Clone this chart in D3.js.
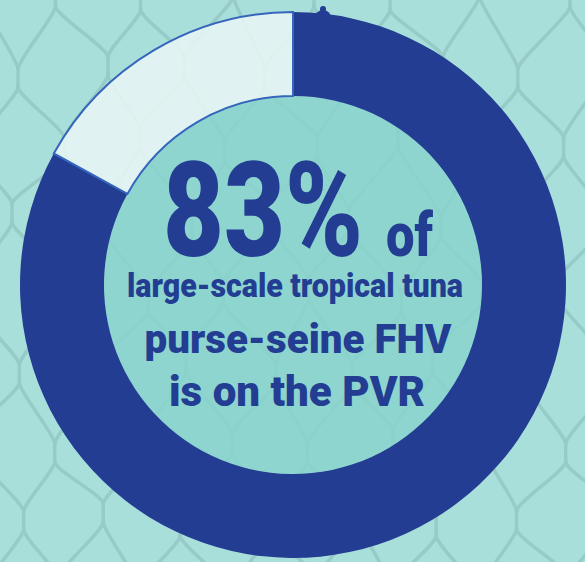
<!DOCTYPE html>
<html>
<head>
<meta charset="utf-8">
<script src="https://cdn.jsdelivr.net/npm/d3@7"></script>
<style>
  html, body { margin: 0; padding: 0; background: #a9dfdb; }
  svg { display: block; }
  text { font-family: Roboto, "Noto Sans", sans-serif; font-weight: 900; fill: #233d93; }
</style>
</head>
<body>
<div id="chart"></div>
<script>
// share of large-scale tropical tuna purse-seine FHV
var shareLabels = ["on the PVR", "not on the PVR"];
var shareValues = [83, 17];
var shareColors = ["#233d93", "#e7f6f5"];

var bigText = "83%";
var smallText = "of";
var lines = ["large-scale tropical tuna", "purse-seine FHV", "is on the PVR"];

var width = 585, height = 562;
var cx = 293, cy = 285, outerR = 273, innerR = 189;

var svg = d3.select("#chart").append("svg")
  .attr("width", width)
  .attr("height", height);

svg.append("rect")
  .attr("width", width).attr("height", height)
  .attr("fill", "#a9dfdb");

// net in the background
var net = svg.append("g")
  .attr("fill", "none")
  .attr("stroke", "#97cbc7")
  .attr("stroke-width", 3.5)
  .attr("stroke-linecap", "round");

var W = 84, H = 150, knot = 9, x0 = 18, y0 = 70;
var knots = [];
for (var j = -2; j <= 10; j++) {
  for (var i = -2; i <= 9; i++) {
    var kx = x0 + i * W + (j % 2 ? W / 2 : 0);
    var ky = y0 + j * H / 2;
    // a bit of wobble so it looks like a real net
    kx += Math.sin(i * 1.7 + j * 2.3) * 6;
    ky += Math.cos(i * 2.1 + j * 1.3) * 8;
    knots.push({i: i, j: j, x: kx, y: ky});
  }
}
function knotAt(i, j) {
  return knots.find(function(k) { return k.i == i && k.j == j; });
}
knots.forEach(function(k) {
  net.append("path").attr("d", "M" + k.x + "," + (k.y - knot) + "L" + k.x + "," + (k.y + knot));
  var nb = k.j % 2 ? [knotAt(k.i, k.j + 1), knotAt(k.i + 1, k.j + 1)]
                   : [knotAt(k.i - 1, k.j + 1), knotAt(k.i, k.j + 1)];
  nb.forEach(function(n) {
    if (!n) return;
    var p = d3.path();
    p.moveTo(k.x, k.y + knot);
    p.bezierCurveTo(k.x, k.y + 18, n.x, n.y - 18, n.x, n.y - knot);
    net.append("path").attr("d", p.toString());
  });
});

var g = svg.append("g").attr("transform", "translate(" + cx + "," + cy + ")");

// inner disc, slightly darker so the net stays faint behind it
g.append("circle")
  .attr("r", innerR)
  .attr("fill", "#88d3cc")
  .attr("fill-opacity", 0.82);

var pie = d3.pie().sort(null).value(function(d) { return d; });
var arc = d3.arc().innerRadius(innerR).outerRadius(outerR);
var arcs = pie(shareValues);

g.selectAll("path.slice")
  .data(arcs)
  .enter().append("path")
  .attr("class", "slice")
  .attr("d", arc)
  .attr("fill", function(d, i) { return shareColors[i]; })
  .attr("fill-opacity", function(d, i) { return i == 0 ? 1 : 0.88; })
  .attr("stroke", function(d, i) { return i == 0 ? "none" : "#3565bd"; })
  .attr("stroke-width", 2);

// small knob on top of the ring
g.append("circle").attr("cx", 30).attr("cy", -outerR + 6).attr("r", 8).attr("fill", "#233d93");
g.append("circle").attr("cx", 30).attr("cy", -outerR - 3).attr("r", 3).attr("fill", "#233d93");

// texts, squeezed to a condensed look
function label(txt, x, y, size, w, anchor) {
  svg.append("text")
    .attr("x", x).attr("y", y)
    .attr("text-anchor", anchor || "middle")
    .attr("font-size", size)
    .attr("textLength", w)
    .attr("lengthAdjust", "spacingAndGlyphs")
    .text(txt);
}
label(bigText, 163, 256, 131, 200, "start");
label(smallText, 386, 256, 62, 47, "start");
label(lines[0], 295, 297, 34, 336);
label(lines[1], 298, 353, 40, 307);
label(lines[2], 297, 406, 43, 256);
</script>
</body>
</html>
